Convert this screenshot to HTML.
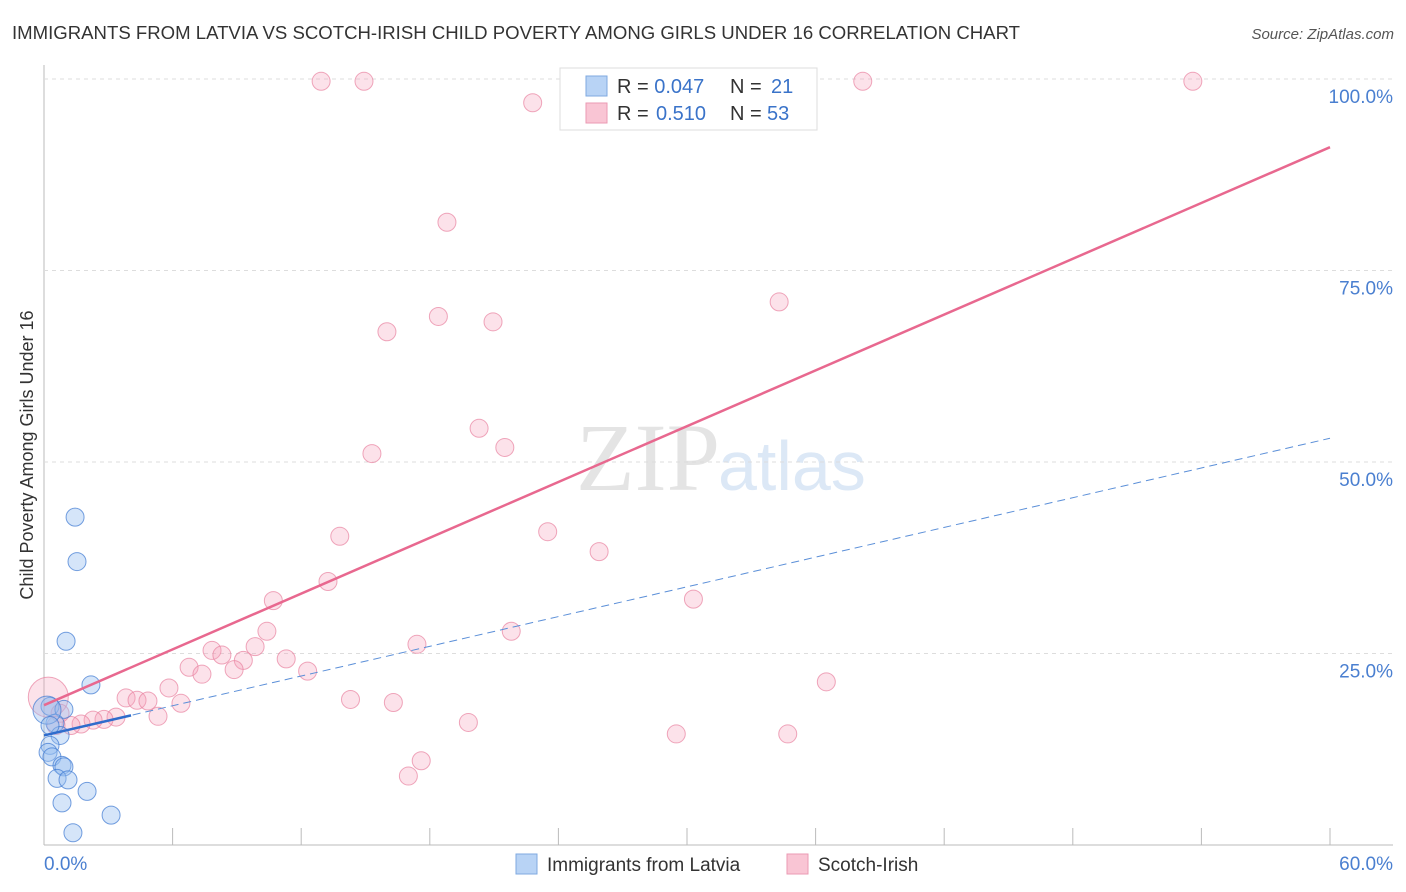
<!DOCTYPE html>
<html><head><meta charset="utf-8"><style>
body{margin:0;background:#fff;font-family:"Liberation Sans",sans-serif;}
#wrap{position:relative;width:1406px;height:892px;overflow:hidden;}
</style></head><body>
<div id="wrap">
<svg id="svg" width="1406" height="892" xmlns="http://www.w3.org/2000/svg">
<text x="12" y="39" font-size="18" fill="#333" textLength="1008" lengthAdjust="spacingAndGlyphs">IMMIGRANTS FROM LATVIA VS SCOTCH-IRISH CHILD POVERTY AMONG GIRLS UNDER 16 CORRELATION CHART</text>
<text x="1394" y="39" font-size="15" fill="#555" font-style="italic" text-anchor="end">Source: ZipAtlas.com</text>
<text transform="translate(33,455) rotate(-90)" font-size="18" fill="#333" text-anchor="middle">Child Poverty Among Girls Under 16</text>
<text x="720" y="490" font-size="96" fill="#e4e4e4" text-anchor="end" font-family="Liberation Serif,serif">ZIP</text>
<text x="718" y="490" font-size="70" fill="#dce8f6">atlas</text>
<g id="grid"></g><g id="marks"></g>
<g>
<rect x="560" y="68" width="257" height="62" fill="#fff" stroke="#ddd"/>
<rect x="586" y="76" width="21" height="20" fill="#b8d3f5" stroke="#7fa9e0"/>
<rect x="586" y="103" width="21" height="20" fill="#f9c5d4" stroke="#eb9ab3"/>
<text x="617" y="93" font-size="20" fill="#333">R = <tspan fill="#3a73c9">0.047</tspan><tspan x="730">N = </tspan><tspan x="771" fill="#3a73c9">21</tspan></text>
<text x="617" y="120" font-size="20" fill="#333">R = <tspan x="656" fill="#3a73c9">0.510</tspan><tspan x="730">N = </tspan><tspan x="767" fill="#3a73c9">53</tspan></text>
</g>
<g>
<rect x="516" y="854" width="21" height="20" fill="#b8d3f5" stroke="#7fa9e0"/>
<text x="547" y="871" font-size="19" fill="#333">Immigrants from Latvia</text>
<rect x="787" y="854" width="21" height="20" fill="#f9c5d4" stroke="#eb9ab3"/>
<text x="818" y="871" font-size="19" fill="#333">Scotch-Irish</text>
</g>
</svg></div>
<script>
const yTicks=[25,50,75,100];
const yTickLabels=["25.0%","50.0%","75.0%","100.0%"];
const xTickLabels=["0.0%","60.0%"];
const latviaX=[1.45,1.54,1.03,2.19,0.28,0.93,0.51,0.75,0.28,0.19,0.37,0.84,0.93,0.61,1.12,2.01,0.84,3.13,1.35,0.14,0.28];
const latviaY=[42.8,37.0,26.6,20.9,18.1,17.7,15.9,14.3,13.0,12.1,11.5,10.4,10.2,8.7,8.5,7.0,5.5,3.9,1.6,17.6,15.6];
const scotchX=[12.93,14.93,38.2,53.6,22.8,18.8,34.3,16.0,18.4,20.95,20.3,21.5,15.3,13.8,23.5,25.9,13.25,10.7,30.3,10.4,21.8,9.85,17.4,7.84,8.3,9.3,6.77,11.3,12.3,8.87,7.37,5.83,3.83,4.34,4.85,6.39,14.3,16.3,36.5,5.32,3.36,2.8,2.29,1.73,1.26,19.8,29.5,34.7,17.6,17.0,0.2,0.75,0.56];
const scotchY=[99.7,99.7,99.7,99.7,96.9,81.3,70.9,67.0,69.0,68.3,54.4,51.9,51.1,40.3,40.9,38.3,34.4,31.9,32.1,27.9,27.9,25.9,26.2,25.4,24.8,24.1,23.2,24.3,22.7,22.9,22.3,20.5,19.2,18.9,18.8,18.5,19.0,18.6,21.3,16.8,16.7,16.4,16.3,15.8,15.6,16.0,14.5,14.5,11.0,9.0,19.3,17.2,15.6];
const scotchTrend=[18.25,91.1];
const latviaTrend=[14.3,53.1];
const latviaSolidEnd=4.06;
const NS="http://www.w3.org/2000/svg";
const X0=44,X1=1330,Y0=845,YT=79;
const xs=v=>X0+(X1-X0)*v/60;
const ys=v=>Y0-(Y0-YT)*v/100;
function mk(tag,at,parent){const e=document.createElementNS(NS,tag);for(const k in at)e.setAttribute(k,at[k]);parent.appendChild(e);return e;}
const grid=document.getElementById('grid'),marks=document.getElementById('marks');
let e;
e=mk('line',{x1:X0,y1:65,x2:X0,y2:Y0,stroke:'#bbb'},grid);


e=mk('line',{x1:X0,y1:Y0,x2:1393,y2:Y0,stroke:'#bbb'},grid);


for(let i=1;i<=10;i++){e=mk('line',{x1:xs(i*6),y1:828,x2:xs(i*6),y2:Y0,stroke:'#bbb'},grid);

}
yTicks.forEach((t,i)=>{e=mk('line',{x1:X0,y1:ys(t),x2:1393,y2:ys(t),stroke:'#ddd','stroke-dasharray':'4,4'},grid);


e=mk('text',{x:1393,y:ys(t)+24,'font-size':19,fill:'#4a7fd0','text-anchor':'end'},grid);e.textContent=yTickLabels[i];

});
e=mk('text',{x:44,y:870,'font-size':19,fill:'#4a7fd0'},grid);e.textContent=xTickLabels[0];


e=mk('text',{x:1393,y:870,'font-size':19,fill:'#4a7fd0','text-anchor':'end'},grid);e.textContent=xTickLabels[1];


scotchX.forEach((x,i)=>{const r=(i==50)?20:9;e=mk('circle',{cx:xs(x),cy:ys(scotchY[i]),r:r,fill:'rgba(245,160,185,0.3)',stroke:'rgba(232,130,160,0.7)','stroke-width':1},marks);

});
latviaX.forEach((x,i)=>{e=mk('circle',{cx:xs(x),cy:ys(latviaY[i]),r:(i==19)?14:9,fill:'rgba(150,190,240,0.4)',stroke:'rgba(60,120,210,0.7)','stroke-width':1},marks);

});
e=mk('line',{x1:xs(0),y1:ys(scotchTrend[0]),x2:xs(60),y2:ys(scotchTrend[1]),stroke:'#e8688f','stroke-width':2.5},marks);


const lt=x=>latviaTrend[0]+(latviaTrend[1]-latviaTrend[0])*x/60;
e=mk('line',{x1:xs(0),y1:ys(lt(0)),x2:xs(60),y2:ys(lt(60)),stroke:'#5b8fd8','stroke-width':1,'stroke-dasharray':'8,5'},marks);


e=mk('line',{x1:xs(0),y1:ys(lt(0)),x2:xs(latviaSolidEnd),y2:ys(lt(latviaSolidEnd)),stroke:'#2f6ccc','stroke-width':2.5},marks);


</script>
</body></html>
